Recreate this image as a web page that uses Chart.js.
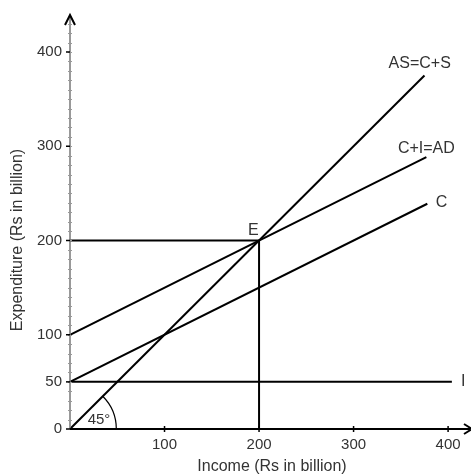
<!DOCTYPE html>
<html>
<head>
<meta charset="utf-8">
<script src="https://cdn.jsdelivr.net/npm/chart.js@4/dist/chart.umd.min.js"></script>
<style>
  html, body { margin: 0; padding: 0; background: #fff; }
  #wrap { width: 471px; height: 475px; position: relative; }
</style>
</head>
<body>
<div id="wrap"><canvas id="c" width="471" height="475"></canvas></div>
<script>
// income (x) and expenditure (y) end points of each line
const asX = [0, 375],   asY = [0, 375];        // AS = C + S (45 degree line)
const adX = [0, 377],   adY = [100, 288.5];    // C + I = AD
const cX  = [0, 378],   cY  = [50, 239];       // C
const iX  = [0, 404],   iY  = [50, 50];        // I
const eHX = [0, 200],   eHY = [200, 200];      // guide to E from y axis
const eVX = [200, 200], eVY = [0, 200];        // guide to E from x axis

const xTicks = [100, 200, 300, 400];
const yTicks = [0, 50, 100, 200, 300, 400];

const lineLabels = [
  { text: 'AS=C+S', x: 370, y: 388 },
  { text: 'C+I=AD', x: 377, y: 297 },
  { text: 'C',      x: 393, y: 240 },
  { text: 'I',      x: 416, y: 50 },
  { text: 'E',      x: 194, y: 210 }
];

const FONT = '"Liberation Sans", Arial, sans-serif';

function pts(xs, ys) { return xs.map((x, i) => ({ x: x, y: ys[i] })); }
function ds(xs, ys) {
  return { data: pts(xs, ys), borderColor: '#000', borderWidth: 2, pointRadius: 0, fill: false, tension: 0 };
}

const decor = {
  id: 'decor',
  afterDraw(chart) {
    const ctx = chart.ctx, xs = chart.scales.x, ys = chart.scales.y;
    const x0 = xs.getPixelForValue(0), y0 = ys.getPixelForValue(0);
    ctx.save();
    // y axis (grey) with minor ticks
    ctx.strokeStyle = '#777'; ctx.lineWidth = 1.5;
    ctx.beginPath(); ctx.moveTo(x0, y0); ctx.lineTo(x0, 17); ctx.stroke();
    ctx.strokeStyle = '#999'; ctx.lineWidth = 1;
    for (let v = 10; v <= 430; v += 10) {
      const p = Math.round(ys.getPixelForValue(v)) + 0.5;
      ctx.beginPath(); ctx.moveTo(x0 - 2, p); ctx.lineTo(x0 + 2, p); ctx.stroke();
    }
    ctx.strokeStyle = '#000'; ctx.lineWidth = 1.5;
    yTicks.forEach(v => {
      const p = ys.getPixelForValue(v);
      ctx.beginPath(); ctx.moveTo(x0 - 4, p); ctx.lineTo(x0, p); ctx.stroke();
    });
    // y arrow
    ctx.lineWidth = 2;
    ctx.beginPath(); ctx.moveTo(x0 - 5, 25); ctx.lineTo(x0, 15); ctx.lineTo(x0 + 5, 25); ctx.stroke();
    // x axis (black)
    ctx.lineWidth = 2;
    ctx.beginPath(); ctx.moveTo(x0, y0); ctx.lineTo(470, y0); ctx.stroke();
    ctx.lineWidth = 1.5;
    xTicks.forEach(v => {
      const p = xs.getPixelForValue(v);
      ctx.beginPath(); ctx.moveTo(p, y0 - 3); ctx.lineTo(p, y0 + 3); ctx.stroke();
    });
    ctx.lineWidth = 2;
    ctx.beginPath(); ctx.moveTo(464, y0 - 5); ctx.lineTo(472, y0); ctx.lineTo(464, y0 + 5); ctx.stroke();
    // 45 degree arc
    const r = xs.getPixelForValue(49) - x0;
    ctx.lineWidth = 1.2;
    ctx.beginPath(); ctx.arc(x0, y0, r, -Math.PI / 4, 0); ctx.stroke();
    ctx.fillStyle = '#333';
    ctx.font = '15px ' + FONT;
    ctx.textAlign = 'center'; ctx.textBaseline = 'middle';
    ctx.fillText('45°', x0 + 29, y0 - 9);
    // line labels
    ctx.font = '16px ' + FONT;
    lineLabels.forEach(l => {
      ctx.fillText(l.text, xs.getPixelForValue(l.x), ys.getPixelForValue(l.y));
    });
    // axis titles
    ctx.fillText('Income (Rs in billion)', 272, 467);
    ctx.translate(18, 240);
    ctx.rotate(-Math.PI / 2);
    ctx.fillText('Expenditure (Rs in billion)', 0, 0);
    ctx.restore();
  }
};

new Chart(document.getElementById('c'), {
  type: 'line',
  data: {
    datasets: [ds(asX, asY), ds(adX, adY), ds(cX, cY), ds(iX, iY), ds(eHX, eHY), ds(eVX, eVY)]
  },
  options: {
    responsive: false,
    animation: false,
    layout: { padding: { top: 19, right: 4, left: 0, bottom: 0 } },
    plugins: { legend: { display: false }, tooltip: { enabled: false } },
    scales: {
      x: {
        type: 'linear', min: 0, max: 420,
        afterBuildTicks: s => { s.ticks = xTicks.map(v => ({ value: v })); },
        afterFit: s => { s.height = 46; },
        grid: { display: false, drawTicks: false },
        border: { display: false },
        ticks: { padding: 7, color: '#333', font: { family: FONT, size: 15 } }
      },
      y: {
        type: 'linear', min: 0, max: 435,
        afterBuildTicks: s => { s.ticks = yTicks.map(v => ({ value: v })); },
        afterFit: s => { s.width = 70; },
        grid: { display: false, drawTicks: false },
        border: { display: false },
        ticks: { padding: 8, color: '#333', font: { family: FONT, size: 15 } }
      }
    }
  },
  plugins: [decor]
});
</script>
</body>
</html>
